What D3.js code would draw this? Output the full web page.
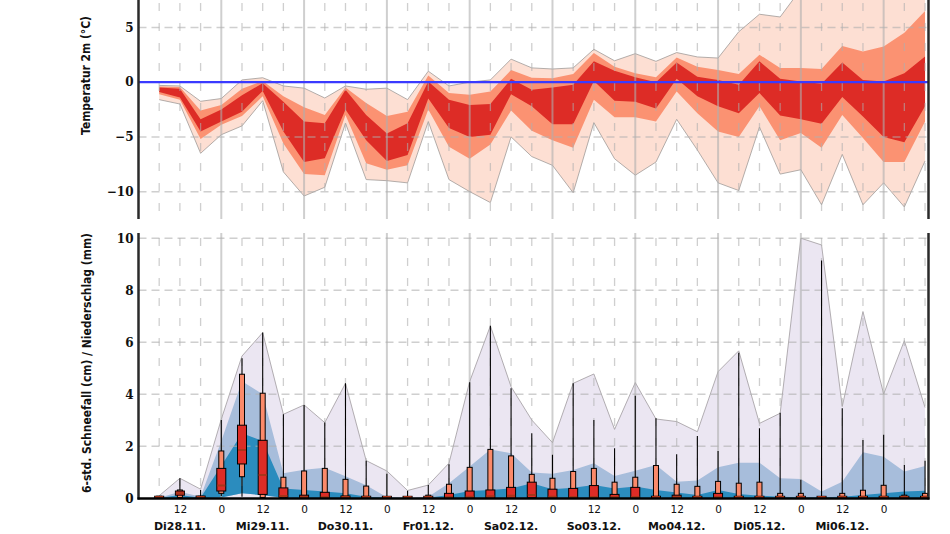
<!DOCTYPE html>
<html><head><meta charset="utf-8">
<script src="https://cdn.jsdelivr.net/npm/d3@7/dist/d3.min.js"></script>
<style>body{margin:0;background:#fff}</style>
</head><body><svg id="c" width="950" height="534"></svg>
<script>
// ---------- DATA (6-hourly, from 28.11. 06 UTC to 07.12. 12 UTC) ----------
const tMax = [-0.3,-0.35,-1.75,-1.5,0.2,0.4,-0.35,-0.55,-1.45,-0.35,-0.65,-0.55,-1.6,1.0,-0.35,0.0,0.2,2.1,1.3,1.2,1.3,3.0,1.95,2.6,1.9,2.7,2.3,2.2,4.6,6.2,5.95,8.5,9.5,10,10,10,10,10];
const t90  = [-0.4,-0.45,-2.6,-2.1,-0.6,0.1,-1.3,-2.3,-3.0,-0.5,-1.9,-3.1,-2.7,0.6,-1.0,-1.15,-0.85,1.1,0.4,0.35,0.75,2.65,1.4,0.8,0.45,2.25,1.4,1.1,0.75,2.5,1.3,1.3,1.2,3.3,2.8,3.25,4.5,6.5];
const t75  = [-0.5,-0.6,-3.4,-2.5,-1.2,-0.1,-1.8,-3.6,-3.75,-0.7,-3.0,-4.7,-3.75,0.05,-1.6,-2.1,-2.0,0.3,-0.7,-0.5,-0.25,1.9,1.05,0.45,0.0,1.8,0.5,0.2,-0.25,1.9,0.3,0.05,-0.15,1.8,0.2,0.05,0.8,2.35];
const t25  = [-0.9,-1.4,-4.5,-3.6,-2.7,-0.8,-4.5,-7.3,-6.95,-2.5,-5.3,-7.2,-6.65,-1.5,-4.2,-5.0,-4.8,-1.1,-2.2,-3.85,-3.85,0.1,-1.7,-1.8,-2.4,0.3,-1.3,-2.2,-2.85,-1.0,-3.05,-3.4,-3.8,-1.35,-3.15,-5.0,-5.5,-2.2];
const t10  = [-1.1,-1.6,-5.2,-3.9,-3.1,-1.3,-5.6,-8.4,-8.5,-3.0,-7.4,-8.0,-7.6,-2.5,-5.9,-7.0,-5.7,-2.6,-4.45,-5.3,-6.0,-1.6,-3.2,-3.2,-3.6,-0.85,-2.85,-4.5,-5.0,-2.2,-5.3,-4.65,-6.0,-3.0,-5.1,-7.3,-7.3,-3.6];
const tMin = [-1.6,-2.0,-6.5,-4.8,-4.0,-1.7,-8.2,-10.4,-9.6,-3.75,-8.9,-9.0,-9.2,-3.6,-8.9,-10.0,-11.0,-5.0,-6.8,-7.6,-10.1,-3.7,-7.0,-8.5,-7.3,-3.4,-6.2,-9.2,-9.9,-4.1,-8.4,-8.0,-11.2,-6.6,-11.2,-9.2,-11.4,-7.2];

const snowMax = [0.1,0.77,0.35,3.04,5.47,6.37,3.23,3.59,2.91,4.42,1.45,1.05,0.3,0.51,1.35,4.49,6.63,4.29,3.01,2.14,4.42,4.78,2.65,4.45,3.05,2.95,2.56,4.87,5.67,2.88,3.27,10.0,9.74,3.53,7.18,4.01,6.06,3.49];
const snow90  = [0.02,0.25,0.06,2.2,4.5,4.0,0.96,1.1,1.17,0.85,0.5,0.04,0.02,0.06,0.58,1.22,1.88,1.73,0.99,0.94,1.09,1.35,0.86,1.06,1.28,0.64,0.68,1.19,1.37,1.37,0.77,0.74,0.26,0.64,1.77,1.6,1.03,1.24];
const snowMed = [0.01,0.13,0.02,1.25,2.5,2.2,0.38,0.32,0.26,0.19,0.06,0.03,0.01,0.02,0.13,0.28,0.32,0.38,0.58,0.35,0.41,0.51,0.38,0.45,0.32,0.22,0.13,0.32,0.17,0.1,0.06,0.04,0.04,0.06,0.13,0.19,0.26,0.29];
const snowLow = [0,0,0,0.03,0.19,0.12,0.02,0,0,0,0,0,0,0,0,0,0,0,0,0,0,0,0,0,0,0,0,0,0,0,0,0,0,0,0,0,0,0];

const prMin = [0,0,0,0.09,0.06,0,0,0,0,0,0,0,0,0,0,0,0,0,0,0,0,0,0,0,0,0,0,0,0,0,0,0,0,0,0,0,0,0];
const pr10  = [0,0.03,0,0.19,0.83,0.03,0,0,0,0,0,0,0,0,0,0,0,0,0,0,0,0,0,0,0,0,0,0,0,0,0,0,0,0,0,0,0,0];
const pr25  = [0,0.12,0.01,0.28,1.32,0.15,0.04,0,0,0,0,0,0,0,0,0,0,0,0.02,0,0,0,0,0,0,0,0,0,0,0,0,0,0,0,0,0,0,0];
const prMed = [0.03,0.19,0.03,0.49,1.86,0.9,0.09,0.04,0.04,0.03,0.02,0.02,0.02,0.02,0.04,0.06,0.08,0.1,0.13,0.06,0.03,0.04,0.02,0.03,0.02,0.02,0.01,0.02,0.01,0.01,0.01,0.01,0.01,0.01,0.01,0.01,0.01,0.01];
const pr75  = [0.08,0.28,0.08,1.15,2.81,2.23,0.40,0.12,0.23,0.09,0.08,0.06,0.05,0.05,0.19,0.28,0.32,0.42,0.62,0.35,0.38,0.49,0.15,0.42,0.08,0.12,0.03,0.19,0.03,0.03,0.02,0.02,0.06,0.02,0.02,0.02,0.03,0.03];
const pr90  = [0.08,0.32,0.08,1.82,4.77,4.04,0.81,1.05,1.15,0.73,0.47,0.06,0.05,0.12,0.54,1.19,1.88,1.63,0.92,0.77,1.03,1.15,0.62,0.81,1.26,0.54,0.46,0.65,0.58,0.62,0.19,0.19,0.06,0.19,0.31,0.5,0.12,0.19];
const prMax = [0.08,0.77,0.32,3.01,5.38,6.37,3.23,3.59,2.91,4.42,1.44,0.94,0.29,0.51,1.31,4.46,6.63,4.23,2.5,1.67,4.42,3.01,1.92,3.94,3.08,1.69,2.4,1.82,5.6,2.69,3.29,0.71,9.14,3.46,2.24,2.44,1.28,1.44];

const dayLabels = ["Di28.11.","Mi29.11.","Do30.11.","Fr01.12.","Sa02.12.","So03.12.","Mo04.12.","Di05.12.","Mi06.12."];
const topTicks = [5,0,-5,-10];
const bottomTicks = [0,2,4,6,8,10];
const topTitle = "Temperatur 2m (°C)";
const bottomTitle = "6-std. Schneefall (cm) / Niederschlag (mm)";

// ---------- SCALES ----------
const svg = d3.select("#c");
const t0 = new Date(Date.UTC(2023,10,28,0));
const tFirst = new Date(Date.UTC(2023,10,28,6));
const times = tMax.map((_,i)=>d3.utcHour.offset(tFirst, i*6));
const x = d3.scaleUtc().domain([t0, d3.utcHour.offset(t0,229)]).range([138.5,928.5]);
const yT = d3.scaleLinear().domain([-12.5,7.5]).range([219,0]);
const yB = d3.scaleLinear().domain([0,10.2]).range([498.3,233]);
const X0 = 138.5, X1 = 928.5;

const defs = svg.append("defs");
defs.append("clipPath").attr("id","clipT").append("rect").attr("x",X0).attr("y",0).attr("width",X1-X0).attr("height",219);
defs.append("clipPath").attr("id","clipB").append("rect").attr("x",X0).attr("y",233).attr("width",X1-X0).attr("height",498.3-233);

const gridCol = "rgba(175,175,175,0.6)";
const sixH = d3.range(6,229,6).filter(h=>h%24!==0).map(h=>d3.utcHour.offset(t0,h));
const days = d3.range(24,229,24).map(h=>d3.utcHour.offset(t0,h));

function band(lo, hi, yS){
  return d3.area().x((d,i)=>x(times[i])).y0((d,i)=>yS(lo[i])).y1((d,i)=>yS(hi[i]))(times);
}
function line(v, yS){ return d3.line().x((d,i)=>x(times[i])).y((d,i)=>yS(v[i]))(times); }

// ---------- TOP PANEL ----------
const gT = svg.append("g").attr("clip-path","url(#clipT)");
gT.append("path").attr("d",band(tMin,tMax,yT)).attr("fill","#fddfd3");
gT.append("path").attr("d",band(t10,t90,yT)).attr("fill","#fb9272");
gT.append("path").attr("d",band(t25,t75,yT)).attr("fill","#dd2c26");
gT.append("path").attr("d",line(tMax,yT)).attr("fill","none").attr("stroke","#a09a98").attr("stroke-width",0.8);
gT.append("path").attr("d",line(tMin,yT)).attr("fill","none").attr("stroke","#a09a98").attr("stroke-width",0.8);
// grid
gT.selectAll(".vg").data(sixH).join("line").attr("x1",d=>x(d)).attr("x2",d=>x(d)).attr("y1",3).attr("y2",219)
  .attr("stroke",gridCol).attr("stroke-width",1.3).attr("stroke-dasharray","8,12");
gT.selectAll(".dl").data(days).join("line").attr("x1",d=>x(d)).attr("x2",d=>x(d)).attr("y1",0).attr("y2",219)
  .attr("stroke",gridCol).attr("stroke-width",2);
gT.selectAll(".hg").data(topTicks.filter(v=>v!==0)).join("line").attr("x1",X0).attr("x2",X1).attr("y1",d=>yT(d)).attr("y2",d=>yT(d))
  .attr("stroke",gridCol).attr("stroke-width",1.5).attr("stroke-dasharray","8,5");
gT.append("line").attr("x1",X0).attr("x2",X1).attr("y1",yT(0)).attr("y2",yT(0)).attr("stroke","#3a3aff").attr("stroke-width",2.2);

// ---------- BOTTOM PANEL ----------
const gB = svg.append("g").attr("clip-path","url(#clipB)");
const zero = snowMax.map(()=>0);
gB.append("path").attr("d",band(zero,snowMax,yB)).attr("fill","#ebe6f2");
gB.append("path").attr("d",band(snowLow,snow90,yB)).attr("fill","#a7bddb");
gB.append("path").attr("d",band(snowLow,snowMed,yB)).attr("fill","#2b8cbe");
gB.append("path").attr("d",line(snowMax,yB)).attr("fill","none").attr("stroke","#a09a9e").attr("stroke-width",0.8);
gB.selectAll(".vg").data(sixH).join("line").attr("x1",d=>x(d)).attr("x2",d=>x(d)).attr("y1",238).attr("y2",498)
  .attr("stroke",gridCol).attr("stroke-width",1.3).attr("stroke-dasharray","8,12");
gB.selectAll(".dl").data(days).join("line").attr("x1",d=>x(d)).attr("x2",d=>x(d)).attr("y1",233).attr("y2",498)
  .attr("stroke",gridCol).attr("stroke-width",2);
gB.selectAll(".hg").data(bottomTicks.filter(v=>v!==0)).join("line").attr("x1",X0).attr("x2",X1).attr("y1",d=>yB(d)).attr("y2",d=>yB(d))
  .attr("stroke",gridCol).attr("stroke-width",1.5).attr("stroke-dasharray","8,5");

// boxplots
const bx = gB.selectAll(".box").data(times).join("g").attr("transform",d=>`translate(${x(d)},0)`);
bx.append("line").attr("x1",0).attr("x2",0).attr("y1",(d,i)=>yB(prMin[i])).attr("y2",(d,i)=>yB(prMax[i])).attr("stroke","#000").attr("stroke-width",1.1);
bx.append("rect").attr("x",-2.5).attr("width",5)
  .attr("y",(d,i)=>yB(pr90[i])).attr("height",(d,i)=>Math.max(1.5,yB(pr10[i])-yB(pr90[i])))
  .attr("fill","#fb8a6a").attr("stroke","#000").attr("stroke-width",1);
bx.append("rect").attr("x",-4.5).attr("width",9)
  .attr("y",(d,i)=>Math.min(yB(pr75[i]),yB(pr25[i])-2)).attr("height",(d,i)=>Math.max(2,yB(pr25[i])-yB(pr75[i])))
  .attr("fill","#dd2c26").attr("stroke","#000").attr("stroke-width",1);
bx.append("line").attr("x1",-4).attr("x2",4).attr("y1",(d,i)=>Math.min(yB(prMed[i]),497)).attr("y2",(d,i)=>Math.min(yB(prMed[i]),497))
  .attr("stroke","#a8361a").attr("stroke-width",2);

// ---------- AXES / FRAMES ----------
const axCol = "#2a2a2a";
svg.append("line").attr("x1",X0).attr("x2",X0).attr("y1",0).attr("y2",219).attr("stroke",axCol).attr("stroke-width",2.5);
svg.append("line").attr("x1",X1).attr("x2",X1).attr("y1",0).attr("y2",219).attr("stroke",axCol).attr("stroke-width",2.5);
svg.append("line").attr("x1",X0).attr("x2",X0).attr("y1",233).attr("y2",499.5).attr("stroke",axCol).attr("stroke-width",2.5);
svg.append("line").attr("x1",X1).attr("x2",X1).attr("y1",233).attr("y2",499.5).attr("stroke",axCol).attr("stroke-width",2.5);
svg.append("line").attr("x1",X0-1).attr("x2",X1+1).attr("y1",498.5).attr("y2",498.5).attr("stroke","#000").attr("stroke-width",2.5);

const serif = "'DejaVu Serif', serif";
function styleY(g){
  g.select(".domain").remove();
  g.selectAll("text").attr("font-family",serif).attr("font-weight","bold").attr("font-size","12px").attr("fill","#111");
}
svg.append("g").attr("transform",`translate(${X0},0)`)
  .call(d3.axisLeft(yT).tickValues(topTicks).tickSize(0).tickPadding(5).tickFormat(d3.format("d"))).call(styleY);
svg.append("g").attr("transform",`translate(${X0},0)`)
  .call(d3.axisLeft(yB).tickValues(bottomTicks).tickSize(0).tickPadding(5).tickFormat(d3.format("d"))).call(styleY);

const xTicks = d3.range(12,217,12).map(h=>d3.utcHour.offset(t0,h));
const gx = svg.append("g").attr("transform","translate(0,498.5)")
  .call(d3.axisBottom(x).tickValues(xTicks).tickSize(0).tickPadding(7).tickFormat(d=>String(d.getUTCHours())));
gx.select(".domain").remove();
gx.selectAll("text").attr("font-family","'DejaVu Sans', sans-serif").attr("font-size","10.5px").attr("fill","#111");

svg.append("g").selectAll("text").data(dayLabels).join("text")
  .attr("x",(d,i)=>x(d3.utcHour.offset(t0,i*24+12))).attr("y",530)
  .attr("text-anchor","middle").attr("font-family","'DejaVu Sans', sans-serif").attr("font-weight","bold")
  .attr("font-size","11px").attr("fill","#111").text(d=>d);

svg.append("text").attr("transform","translate(90,75.5) rotate(-90)").attr("text-anchor","middle")
  .attr("font-family","'DejaVu Sans', sans-serif").attr("font-weight","bold").attr("font-size","12px")
  .attr("textLength",119).attr("lengthAdjust","spacingAndGlyphs").attr("fill","#111").text(topTitle);
svg.append("text").attr("transform","translate(91,363) rotate(-90)").attr("text-anchor","middle")
  .attr("font-family","'DejaVu Sans', sans-serif").attr("font-weight","bold").attr("font-size","12px")
  .attr("textLength",260).attr("lengthAdjust","spacingAndGlyphs").attr("fill","#111").text(bottomTitle);
</script></body></html>
